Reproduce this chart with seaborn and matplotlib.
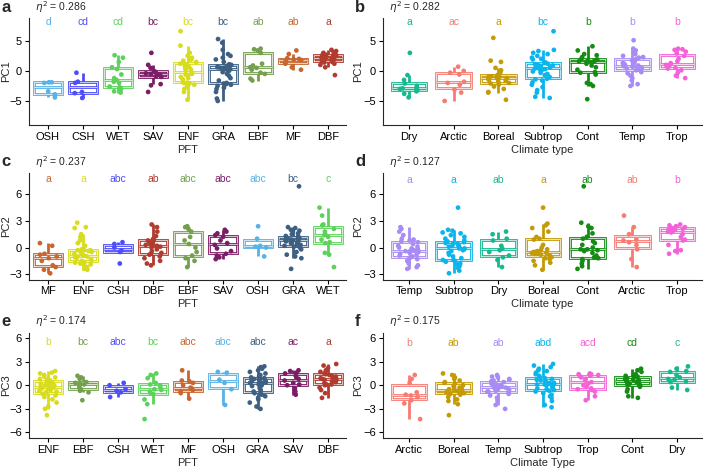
import numpy as np
import pandas as pd
import matplotlib.pyplot as plt
import seaborn as sns

# colours for each group
pft_colors = {"OSH": "#57B2E6", "CSH": "#4D4DFA", "WET": "#5CD15C", "SAV": "#7B1D66",
              "ENF": "#D8DC1E", "GRA": "#3D5F82", "EBF": "#74A04E", "MF": "#C9652E",
              "DBF": "#B13B2E"}
climate_colors = {"Dry": "#17B890", "Arctic": "#F77B72", "Boreal": "#C49A06",
                  "Subtrop": "#0BB5EC", "Cont": "#148C14", "Temp": "#A88BF5",
                  "Trop": "#F462D7"}

# ---- panel a: PC1 by PFT
pc1_pft_order = ["OSH", "CSH", "WET", "SAV", "ENF", "GRA", "EBF", "MF", "DBF"]
pc1_pft_letters = ["d", "cd", "cd", "bc", "bc", "bc", "ab", "ab", "a"]
pc1_pft_values = [
    [-1.9, -1.9, -2.0, -3.4, -3.9, -4.4],
    [-0.3, -1.8, -2.0, -3.5, -3.7, -4.5],
    [-3.6, -3.4, -3.0, -2.7, -2.6, -2.0, -1.8, -1.5, -1.2, -0.6, 0.3, 0.6, 1.5, 2.2, 2.6],
    [-3.5, -2.4, -2.2, -1.0, -0.9, -0.7, -0.6, -0.5, -0.4, -0.2, 0.0, 0.5, 1.0, 3.0],
    [-4.8, -3.5, -3.0, -2.6, -2.3, -2.1, -2.0, -2.0, -1.95, -1.85, -1.4, -1.2, -1.0, -0.8,
     -0.6, -0.5, -0.4, -0.3, -0.2, 0.0, 0.2, 0.4, 0.6, 0.8, 1.0, 1.2, 1.3, 1.5, 1.7, 1.9,
     2.0, 2.2, 2.5, 3.0, 4.2, 6.6],
    [-5.0, -4.6, -3.5, -3.0, -2.8, -2.5, -2.3, -2.2, -2.1, -2.0, -1.6, -1.2, -0.8, -0.5,
     -0.2, 0.0, 0.2, 0.3, 0.3, 0.4, 0.5, 0.5, 0.6, 0.7, 0.8, 0.9, 1.0, 1.1, 1.5, 1.9,
     2.2, 2.5, 2.8, 3.5, 4.7, 5.3],
    [-1.6, -1.3, -0.5, -0.3, 0.2, 0.5, 0.6, 0.9, 1.2, 3.0, 3.4, 3.6, 3.7],
    [0.2, 0.6, 1.2, 1.3, 1.6, 1.8, 1.9, 2.0, 2.1, 2.8, 3.4],
    [-0.7, 0.6, 1.0, 1.2, 1.4, 1.5, 1.6, 1.8, 1.9, 2.0, 2.1, 2.1, 2.2, 2.2, 2.3, 2.3,
     2.4, 2.5, 2.6, 2.6, 2.7, 2.8, 3.0, 3.1, 3.3, 3.5],
]

# ---- panel b: PC1 by climate type
pc1_clim_order = ["Dry", "Arctic", "Boreal", "Subtrop", "Cont", "Temp", "Trop"]
pc1_clim_letters = ["a", "ac", "a", "bc", "b", "b", "b"]
pc1_clim_values = [
    [-4.4, -3.8, -3.4, -3.2, -3.0, -2.9, -2.9, -2.5, -2.1, -1.5, -0.7, 3.0],
    [-5.0, -3.6, -3.1, -2.3, -2.0, -1.8, -0.6, -0.3, 0.0, 0.7],
    [-4.8, -3.6, -3.5, -3.0, -2.6, -2.3, -2.1, -2.0, -1.8, -1.6, -1.5, -1.4, -1.3, -1.2,
     -1.2, -1.1, -1.0, -1.0, -0.9, -0.9, -0.8, -0.6, -0.3, 0.1, 0.5, 1.5, 1.7, 5.5],
    [-4.5, -4.3, -3.6, -3.2, -2.7, -2.3, -1.9, -1.6, -1.4, -1.3, -1.0, -0.7, -0.5, -0.3,
     -0.1, 0.1, 0.2, 0.3, 0.4, 0.5, 0.6, 0.7, 0.8, 0.9, 1.0, 1.1, 1.2, 1.3, 1.4, 1.9,
     2.0, 2.2, 2.5, 2.8, 3.0, 3.3, 3.5, 6.6],
    [-4.7, -2.5, -2.2, -2.0, -0.6, -0.3, -0.2, 0.2, 0.6, 0.9, 1.2, 1.4, 1.5, 1.6, 1.6,
     1.7, 1.8, 1.9, 2.0, 2.3, 2.6, 2.8, 3.4, 4.1],
    [-2.5, -2.2, -1.6, -1.2, -0.8, -0.4, -0.2, 0.1, 0.2, 0.3, 0.4, 0.5, 0.6, 0.7, 0.8,
     0.8, 0.9, 1.0, 1.1, 1.2, 1.3, 1.5, 1.7, 2.0, 2.2, 2.3, 2.5, 2.8, 3.1, 3.4, 3.7, 5.1],
    [-1.2, -0.8, -0.3, 0.1, 0.4, 0.5, 0.7, 0.9, 1.0, 1.1, 1.3, 1.6, 2.0, 2.5, 2.9, 3.2,
     3.5, 3.6, 3.7],
]

# ---- panel c: PC2 by PFT
pc2_pft_order = ["MF", "ENF", "CSH", "DBF", "EBF", "SAV", "OSH", "GRA", "WET"]
pc2_pft_letters = ["a", "a", "abc", "ab", "abc", "abc", "abc", "bc", "c"]
pc2_pft_values = [
    [-2.9, -2.5, -2.2, -2.0, -1.5, -1.2, -1.0, -0.8, -0.7, 0.2, 0.5],
    [-2.5, -2.4, -2.2, -2.0, -1.9, -1.8, -1.7, -1.7, -1.6, -1.5, -1.4, -1.3, -1.2, -1.1,
     -1.1, -1.0, -1.0, -0.9, -0.9, -0.8, -0.7, -0.6, -0.5, -0.4, -0.3, -0.3, -0.3, -0.2,
     0.2, 0.5, 0.8, 1.2, 1.5, 2.2, 2.3, 2.8],
    [-1.8, -0.5, -0.3, 0.0, 0.4, 0.6],
    [-2.0, -1.8, -1.5, -1.2, -1.0, -0.8, -0.7, -0.6, -0.4, -0.2, 0.0, 0.1, 0.2, 0.2, 0.3,
     0.4, 0.5, 0.6, 0.8, 0.8, 0.9, 1.0, 1.3, 1.8, 2.3, 2.6],
    [-2.2, -1.5, -1.2, -0.9, -0.5, 0.0, 0.4, 0.8, 1.2, 1.8, 2.1, 2.3, 2.4],
    [-1.3, -1.1, -0.9, -0.7, -0.4, -0.1, 0.3, 0.5, 0.8, 1.2, 1.4, 1.6, 1.8, 2.0],
    [-1.0, 0.0, 0.1, 0.2, 1.0, 2.4],
    [-2.4, -1.2, -1.0, -0.8, -0.5, -0.2, 0.0, 0.1, 0.2, 0.2, 0.3, 0.4, 0.5, 0.5, 0.6,
     0.7, 0.7, 0.8, 0.8, 0.9, 0.9, 1.0, 1.0, 1.1, 1.1, 1.2, 1.2, 1.3, 1.5, 1.6, 1.8, 1.9,
     2.0, 2.2, 2.3, 6.9],
    [-2.2, -0.8, -0.6, 0.5, 0.6, 0.9, 1.2, 1.4, 1.5, 1.8, 2.1, 2.5, 2.6, 3.6, 4.5],
]

# ---- panel d: PC2 by climate type
pc2_clim_order = ["Temp", "Subtrop", "Dry", "Boreal", "Cont", "Arctic", "Trop"]
pc2_clim_letters = ["a", "a", "ab", "a", "ab", "ab", "b"]
pc2_clim_values = [
    [-2.4, -2.2, -2.0, -1.8, -1.5, -1.3, -1.2, -1.1, -1.0, -0.9, -0.8, -0.7, -0.6, -0.5,
     -0.4, -0.4, -0.3, -0.2, -0.1, 0.0, 0.1, 0.2, 0.4, 0.6, 0.7, 0.8, 0.9, 1.0, 1.4, 1.8,
     2.1, 2.3],
    [-2.9, -2.6, -2.3, -2.1, -1.9, -1.8, -1.6, -1.5, -1.4, -1.4, -1.2, -1.0, -0.8, -0.6,
     -0.4, -0.3, -0.2, -0.1, -0.1, 0.0, 0.1, 0.2, 0.2, 0.3, 0.4, 0.5, 0.5, 0.6, 0.7, 0.8,
     1.0, 1.2, 1.4, 1.6, 1.7, 1.9, 2.0, 4.5],
    [-2.2, -1.4, -1.1, -0.9, -0.5, -0.3, -0.1, 0.2, 0.8, 1.0, 1.5, 1.8],
    [-2.5, -2.0, -1.7, -1.5, -1.3, -1.2, -1.1, -0.9, -0.8, -0.7, -0.7, -0.6, -0.6, -0.5,
     -0.5, -0.4, -0.3, -0.2, 0.0, 0.3, 0.9, 1.0, 1.2, 1.8, 2.2, 2.5, 2.7, 4.5],
    [-2.4, -2.1, -1.8, -1.5, -1.3, -1.2, -1.1, -0.9, -0.6, -0.4, -0.3, -0.2, -0.2, 0.0,
     0.3, 0.5, 0.7, 1.0, 1.2, 1.6, 2.2, 2.4, 2.8, 6.9],
    [-2.2, -1.3, -0.2, 0.3, 0.6, 0.8, 0.9, 1.5, 2.3, 3.6],
    [-0.7, -0.4, -0.3, 0.3, 0.8, 0.9, 1.2, 1.5, 1.7, 1.8, 1.9, 2.0, 2.0, 2.1, 2.2, 2.3,
     2.4, 2.5, 2.6],
]

# ---- panel e: PC3 by PFT
pc3_pft_order = ["ENF", "EBF", "CSH", "WET", "MF", "OSH", "GRA", "SAV", "DBF"]
pc3_pft_letters = ["b", "bc", "abc", "bc", "abc", "abc", "abc", "ac", "a"]
pc3_pft_values = [
    [-3.8, -3.0, -2.7, -2.2, -1.8, -1.5, -1.3, -1.1, -1.0, -0.9, -0.8, -0.7, -0.6, -0.5,
     -0.4, -0.3, -0.3, -0.2, -0.2, -0.1, 0.0, 0.0, 0.1, 0.2, 0.3, 0.4, 0.6, 0.6, 0.7, 0.8,
     1.0, 1.1, 1.3, 1.5, 1.6, 1.8],
    [-1.9, -0.9, -0.7, -0.5, -0.3, 0.0, 0.1, 0.2, 0.3, 0.4, 0.8, 1.0, 1.2],
    [-1.5, -0.9, -0.7, -0.5, 0.0, 0.3],
    [-4.3, -2.4, -1.8, -1.1, -1.0, -0.8, -0.6, -0.5, -0.3, 0.0, 0.1, 0.3, 0.9, 1.3, 1.5],
    [-1.7, -1.0, -0.8, -0.6, -0.4, -0.3, 0.0, 0.3, 0.5, 0.6, 1.9],
    [-2.5, -0.5, 0.3, 0.7, 1.6, 1.7],
    [-3.0, -2.7, -2.2, -1.8, -1.6, -1.4, -1.2, -1.0, -0.9, -0.8, -0.6, -0.4, -0.2, -0.1,
     0.0, 0.1, 0.2, 0.3, 0.3, 0.4, 0.5, 0.5, 0.6, 0.7, 0.8, 0.8, 0.9, 1.0, 1.1, 1.3, 1.5,
     1.7, 1.9, 2.1, 2.3, 2.4],
    [-1.2, -0.8, -0.4, 0.0, 0.1, 0.3, 0.6, 0.8, 1.0, 1.2, 1.5, 1.6, 1.8, 1.9],
    [-1.6, -1.0, -0.6, -0.3, 0.0, 0.1, 0.1, 0.3, 0.4, 0.5, 0.6, 0.7, 0.8, 0.8, 0.9, 1.0,
     1.1, 1.2, 1.3, 1.4, 1.5, 1.7, 1.9, 2.2, 2.5, 2.7],
]

# ---- panel f: PC3 by climate type
pc3_clim_order = ["Arctic", "Boreal", "Temp", "Subtrop", "Trop", "Cont", "Dry"]
pc3_clim_letters = ["b", "ab", "ab", "abd", "acd", "cd", "c"]
pc3_clim_values = [
    [-4.3, -2.3, -1.9, -1.5, -1.3, -1.2, -0.9, 0.3, 0.8, 1.3],
    [-3.8, -2.4, -2.0, -1.8, -1.5, -1.2, -1.1, -1.0, -0.9, -0.8, -0.8, -0.7, -0.6, -0.6,
     -0.5, -0.4, -0.3, -0.2, -0.1, 0.0, 0.2, 0.3, 0.4, 0.6, 0.8, 1.0, 1.3, 1.5],
    [-3.0, -2.5, -2.0, -1.6, -1.3, -1.1, -0.9, -0.8, -0.8, -0.7, -0.6, -0.5, -0.4, -0.4,
     -0.3, -0.3, -0.2, -0.2, -0.1, 0.0, 0.1, 0.2, 0.3, 0.4, 0.4, 0.5, 0.6, 0.7, 0.8, 1.0,
     1.1, 1.3],
    [-2.8, -2.5, -2.0, -1.6, -1.4, -1.2, -1.0, -0.8, -0.7, -0.6, -0.5, -0.4, -0.3, -0.2,
     -0.1, 0.0, 0.0, 0.1, 0.1, 0.2, 0.3, 0.3, 0.4, 0.5, 0.6, 0.7, 0.8, 0.9, 1.0, 1.2, 1.4,
     1.6, 1.8, 1.9, 2.1, 2.3, 2.5, 2.7],
    [-1.9, -1.4, -0.8, -0.6, -0.5, -0.4, -0.2, 0.0, 0.2, 0.4, 0.6, 0.8, 1.0, 1.1, 1.2,
     1.3, 1.4, 1.4, 1.5],
    [-1.6, -1.4, -0.8, -0.5, -0.2, 0.0, 0.0, 0.1, 0.2, 0.3, 0.4, 0.5, 0.5, 0.6, 0.7, 0.8,
     0.9, 1.1, 1.1, 1.2, 1.4, 1.7, 1.9, 2.1],
    [-0.6, -0.3, 0.4, 0.5, 0.7, 0.8, 1.0, 1.3, 1.7, 1.8, 2.1, 2.4],
]

eta_values = ["0.286", "0.282", "0.237", "0.127", "0.174", "0.175"]

sns.set_style("ticks")
plt.rcParams["font.family"] = ["Liberation Sans", "DejaVu Sans"]
plt.rcParams["axes.linewidth"] = 0.8
np.random.seed(3)

W, H = 704, 470
fig = plt.figure(figsize=(W / 100, H / 100), dpi=100)


def px_rect(left, top, right, bottom):
    return [left / W, 1 - bottom / H, (right - left) / W, (bottom - top) / H]


def long_table(order, values):
    rows = [(g, v) for g, vals in zip(order, values) for v in vals]
    return pd.DataFrame(rows, columns=["group", "value"])


def draw_panel(rect, tag, eta, order, values, letters, colors, ylabel, xlabel,
               ylim, yticks, letter_y, xlim, box_w, ylabel_x):
    ax = fig.add_axes(px_rect(*rect))
    df = long_table(order, values)
    for g in order:
        sub = df[df.group == g]
        # thick coloured box with a thin white line inside it
        sns.boxplot(data=sub, x="group", y="value", order=order, color="white",
                    linecolor=colors[g], linewidth=2.0, width=box_w, saturation=1,
                    showfliers=False, showcaps=False, ax=ax)
        sns.boxplot(data=sub, x="group", y="value", order=order, fill=False,
                    color="white", linecolor="white", linewidth=0.5, width=box_w,
                    showfliers=False, showcaps=False,
                    whiskerprops={"linewidth": 0}, ax=ax)
    sns.stripplot(data=df, x="group", y="value", order=order, hue="group",
                  hue_order=order, palette=colors, jitter=0.25, size=3.4,
                  linewidth=0, legend=False, zorder=3, ax=ax)
    for i, g in enumerate(order):
        ax.text(i, letter_y, letters[i], color=colors[g], ha="center", va="center",
                fontsize=7.5)
    ax.set_xlim(*xlim)
    ax.set_ylim(*ylim)
    ax.set_yticks(yticks)
    ax.set_xticks(range(len(order)))
    ax.set_xticklabels(order)
    ax.tick_params(labelsize=8, length=3, width=0.8, pad=2, colors="black")
    ax.set_xlabel(xlabel, fontsize=8, labelpad=2)
    ax.set_ylabel(ylabel, fontsize=8)
    width = rect[2] - rect[0]
    ax.yaxis.set_label_coords((ylabel_x - rect[0]) / width, 0.5)
    sns.despine(ax=ax)
    left, top = rect[0], rect[1]
    fig.text((left - 28) / W, 1 - (top - 11) / H, tag, fontsize=12,
             fontweight="bold", va="center", ha="left")
    fig.text((left + 6) / W, 1 - (top - 11) / H, r"$\eta^2$ = " + eta,
             fontsize=7.5, va="center", ha="left")
    return ax


left_x = (-(48 - 29) / 35, 8 + (346 - 328) / 35)
right_x = (-(409 - 383) / 44.67, 6 + (702 - 677) / 44.67)

draw_panel((29, 18, 346, 125), "a", eta_values[0], pc1_pft_order, pc1_pft_values,
           pc1_pft_letters, pft_colors, "PC1", "PFT", (-9, 8.8), [-5, 0, 5], 8.2,
           left_x, 0.8, 11)
draw_panel((383, 18, 702, 125), "b", eta_values[1], pc1_clim_order, pc1_clim_values,
           pc1_clim_letters, climate_colors, "PC1", "Climate type", (-9, 8.8),
           [-5, 0, 5], 8.2, right_x, 0.78, 363)
draw_panel((29, 173, 346, 279.5), "c", eta_values[2], pc2_pft_order, pc2_pft_values,
           pc2_pft_letters, pft_colors, "PC2", "PFT", (-3.6, 8.4), [-3, 0, 3, 6], 7.7,
           left_x, 0.8, 11)
draw_panel((383, 173, 702, 279.5), "d", eta_values[3], pc2_clim_order, pc2_clim_values,
           pc2_clim_letters, climate_colors, "PC2", "Climate type", (-3.6, 8.4),
           [-3, 0, 3, 6], 7.6, right_x, 0.78, 363)
draw_panel((29, 332.5, 346, 438), "e", eta_values[4], pc3_pft_order, pc3_pft_values,
           pc3_pft_letters, pft_colors, "PC3", "PFT", (-6.7, 6.7), [-6, -3, 0, 3, 6], 5.5,
           left_x, 0.8, 11)
draw_panel((383, 332.5, 702, 438), "f", eta_values[5], pc3_clim_order, pc3_clim_values,
           pc3_clim_letters, climate_colors, "PC3", "Climate Type", (-6.7, 6.7),
           [-6, -3, 0, 3, 6], 5.4, right_x, 0.78, 363)

fig.savefig("out.png", dpi=100)
